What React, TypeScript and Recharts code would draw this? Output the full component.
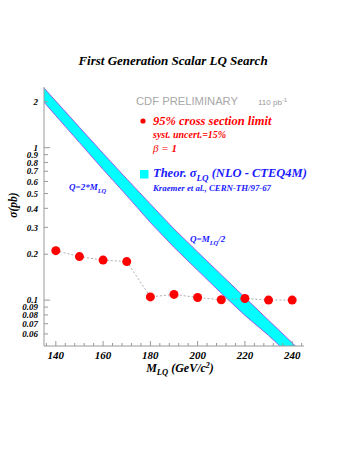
import { ComposedChart, Area, Line, XAxis, YAxis } from "recharts";

// 95% CL limit points
const limitMass = [140, 150, 160, 170, 180, 190, 200, 210, 220, 230, 240];
const limitXsec = [0.211, 0.193, 0.183, 0.179, 0.105, 0.109, 0.104, 0.1005, 0.1025, 0.1, 0.1];

// theory band (NLO CTEQ4M), lower edge Q=2*M, upper edge Q=M/2
const theoryMass = [135, 140, 150, 160, 170, 180, 190, 200, 210, 220, 230, 240, 245];
const theoryLow = [1.99, 1.62, 1.08, 0.72, 0.485, 0.323, 0.222, 0.157, 0.111, 0.0794, 0.0587, 0.042, 0.036];
const theoryHigh = [2.46, 2.02, 1.36, 0.918, 0.624, 0.427, 0.293, 0.207, 0.1466, 0.104, 0.0738, 0.0525, 0.044];

const xTicks = [136, 140, 144, 148, 152, 156, 160, 164, 168, 172, 176, 180, 184, 188, 192, 196, 200, 204, 208, 212, 216, 220, 224, 228, 232, 236, 240, 244];
const xLabels = [140, 160, 180, 200, 220, 240];
const yTicks = [0.06, 0.07, 0.08, 0.09, 0.1, 0.2, 0.3, 0.4, 0.5, 0.6, 0.7, 0.8, 0.9, 1, 2];

const data = theoryMass.map((m, i) => {
  const j = limitMass.indexOf(m);
  return { m, band: [theoryLow[i], theoryHigh[i]], limit: j >= 0 ? limitXsec[j] : undefined };
});

const AX = "#999";
const SERIF = "'Liberation Serif', 'Times New Roman', serif";
const BLUE = "#1a1aff";
const RED = "#ff0000";

const BottomTick = (p: any) => {
  const v = p.payload.value;
  const major = xLabels.includes(v);
  return (
    <g>
      <line x1={p.x} x2={p.x} y1={p.y} y2={p.y - (major ? 5 : 3)} stroke={AX} />
      {major && (
        <text x={p.x} y={p.y + 13} textAnchor="middle" fontFamily={SERIF} fontWeight="bold" fontStyle="italic" fontSize={11} fill="#000">
          {v}
        </text>
      )}
    </g>
  );
};

const TopTick = (p: any) => {
  const major = xLabels.includes(p.payload.value);
  return <line x1={p.x} x2={p.x} y1={p.y} y2={p.y + (major ? 5 : 3)} stroke={AX} />;
};

const LeftTick = (p: any) => {
  const v = p.payload.value;
  const major = v === 1 || v === 0.1;
  return (
    <g>
      <line x1={p.x} x2={p.x + (major ? 6 : 4)} y1={p.y} y2={p.y} stroke={AX} />
      <text x={p.x - 6} y={p.y + 3.2} textAnchor="end" fontFamily={SERIF} fontWeight="bold" fontStyle="italic" fontSize={9} fill="#000">
        {v}
      </text>
    </g>
  );
};

const RightTick = (p: any) => {
  const v = p.payload.value;
  const major = v === 1 || v === 0.1;
  return <line x1={p.x} x2={p.x - (major ? 6 : 4)} y1={p.y} y2={p.y} stroke={AX} />;
};

export default function App() {
  return (
    <div style={{ position: "absolute", left: 0, top: 0, width: 358, height: 463, background: "#fff" }}>
      <ComposedChart width={358} height={463} data={data} margin={{ top: 87, right: 54, bottom: 87, left: 4 }}>
        <XAxis dataKey="m" type="number" domain={[135, 245]} ticks={xTicks} interval={0} allowDataOverflow
          height={30} tickSize={0} tickMargin={0} tickLine={false} axisLine={{ stroke: AX }} tick={BottomTick} />
        <XAxis xAxisId="top" orientation="top" dataKey="m" type="number" domain={[135, 245]} ticks={xTicks} interval={0}
          allowDataOverflow height={0} tickSize={0} tickMargin={0} tickLine={false} axisLine={{ stroke: AX }} tick={TopTick} />
        <YAxis type="number" scale="log" domain={[0.05, 2.5]} ticks={yTicks} interval={0} allowDataOverflow
          width={40} tickSize={0} tickMargin={0} tickLine={false} axisLine={{ stroke: AX }} tick={LeftTick} />
        <YAxis yAxisId="right" orientation="right" type="number" scale="log" domain={[0.05, 2.5]} ticks={yTicks} interval={0}
          allowDataOverflow width={0} tickSize={0} tickMargin={0} tickLine={false} axisLine={{ stroke: AX }} tick={RightTick} />
        <Area dataKey="band" type="linear" fill="#00ffff" fillOpacity={1} stroke="#9a5cf0" strokeWidth={1} isAnimationActive={false} />
        <Line dataKey="limit" type="linear" stroke="#999" strokeWidth={0.8} strokeDasharray="2 2" connectNulls
          dot={{ r: 4.5, fill: RED, stroke: RED, strokeWidth: 0 }} isAnimationActive={false} />
      </ComposedChart>
      <svg width={358} height={463} style={{ position: "absolute", left: 0, top: 0, pointerEvents: "none" }}>
        <text x={173} y={65} textAnchor="middle" fontFamily={SERIF} fontWeight="bold" fontStyle="italic" fontSize={13}>
          First Generation Scalar LQ Search
        </text>
        <text x={136} y={105} fontFamily="'Liberation Sans', sans-serif" fontSize={11.5} fill="#a8a8a8" textLength={102} lengthAdjust="spacingAndGlyphs">
          CDF PRELIMINARY
        </text>
        <text x={258} y={105} fontFamily="'Liberation Sans', sans-serif" fontSize={8} fill="#999">
          110 pb<tspan dy={-3} fontSize={6}>-1</tspan>
        </text>
        <circle cx={143} cy={121} r={2.6} fill={RED} />
        <text x={153} y={125} fontFamily={SERIF} fontWeight="bold" fontStyle="italic" fontSize={12.5} fill={RED}>
          95% cross section limit
        </text>
        <text x={153} y={138} fontFamily={SERIF} fontWeight="bold" fontStyle="italic" fontSize={10} fill={RED}>
          syst. uncert.=15%
        </text>
        <text x={153} y={152} fontFamily={SERIF} fontStyle="italic" fontSize={11} fill={RED}>
          β = <tspan fontWeight="bold">1</tspan>
        </text>
        <rect x={140} y={170} width={8.5} height={8.5} fill="#00ffff" />
        <text x={153} y={177} fontFamily={SERIF} fontWeight="bold" fontStyle="italic" fontSize={12.5} fill={BLUE}>
          Theor. σ<tspan dy={4} fontSize={9}>LQ</tspan><tspan dy={-4}> (NLO - CTEQ4M)</tspan>
        </text>
        <text x={153} y={191} fontFamily={SERIF} fontWeight="bold" fontStyle="italic" fontSize={8.8} fill={BLUE}>
          Kraemer et al., CERN-TH/97-67
        </text>
        <text x={69} y={190} fontFamily={SERIF} fontWeight="bold" fontStyle="italic" fontSize={9} fill={BLUE}>
          Q=2*M<tspan dy={2.5} fontSize={6.5}>LQ</tspan>
        </text>
        <text x={190} y={242} fontFamily={SERIF} fontWeight="bold" fontStyle="italic" fontSize={9} fill={BLUE}>
          Q=M<tspan dy={2.5} fontSize={6.5}>LQ</tspan><tspan dy={-2.5}>/2</tspan>
        </text>
        <text transform="translate(17,205) rotate(-90)" textAnchor="middle" fontFamily={SERIF} fontWeight="bold" fontStyle="italic" fontSize={11.5}>
          σ(pb)
        </text>
        <text x={180} y={372} textAnchor="middle" fontFamily={SERIF} fontWeight="bold" fontStyle="italic" fontSize={12}>
          M<tspan dy={3} fontSize={8.5}>LQ</tspan><tspan dy={-3}> (GeV/c</tspan><tspan dy={-4} fontSize={8}>2</tspan><tspan dy={4}>)</tspan>
        </text>
      </svg>
    </div>
  );
}
